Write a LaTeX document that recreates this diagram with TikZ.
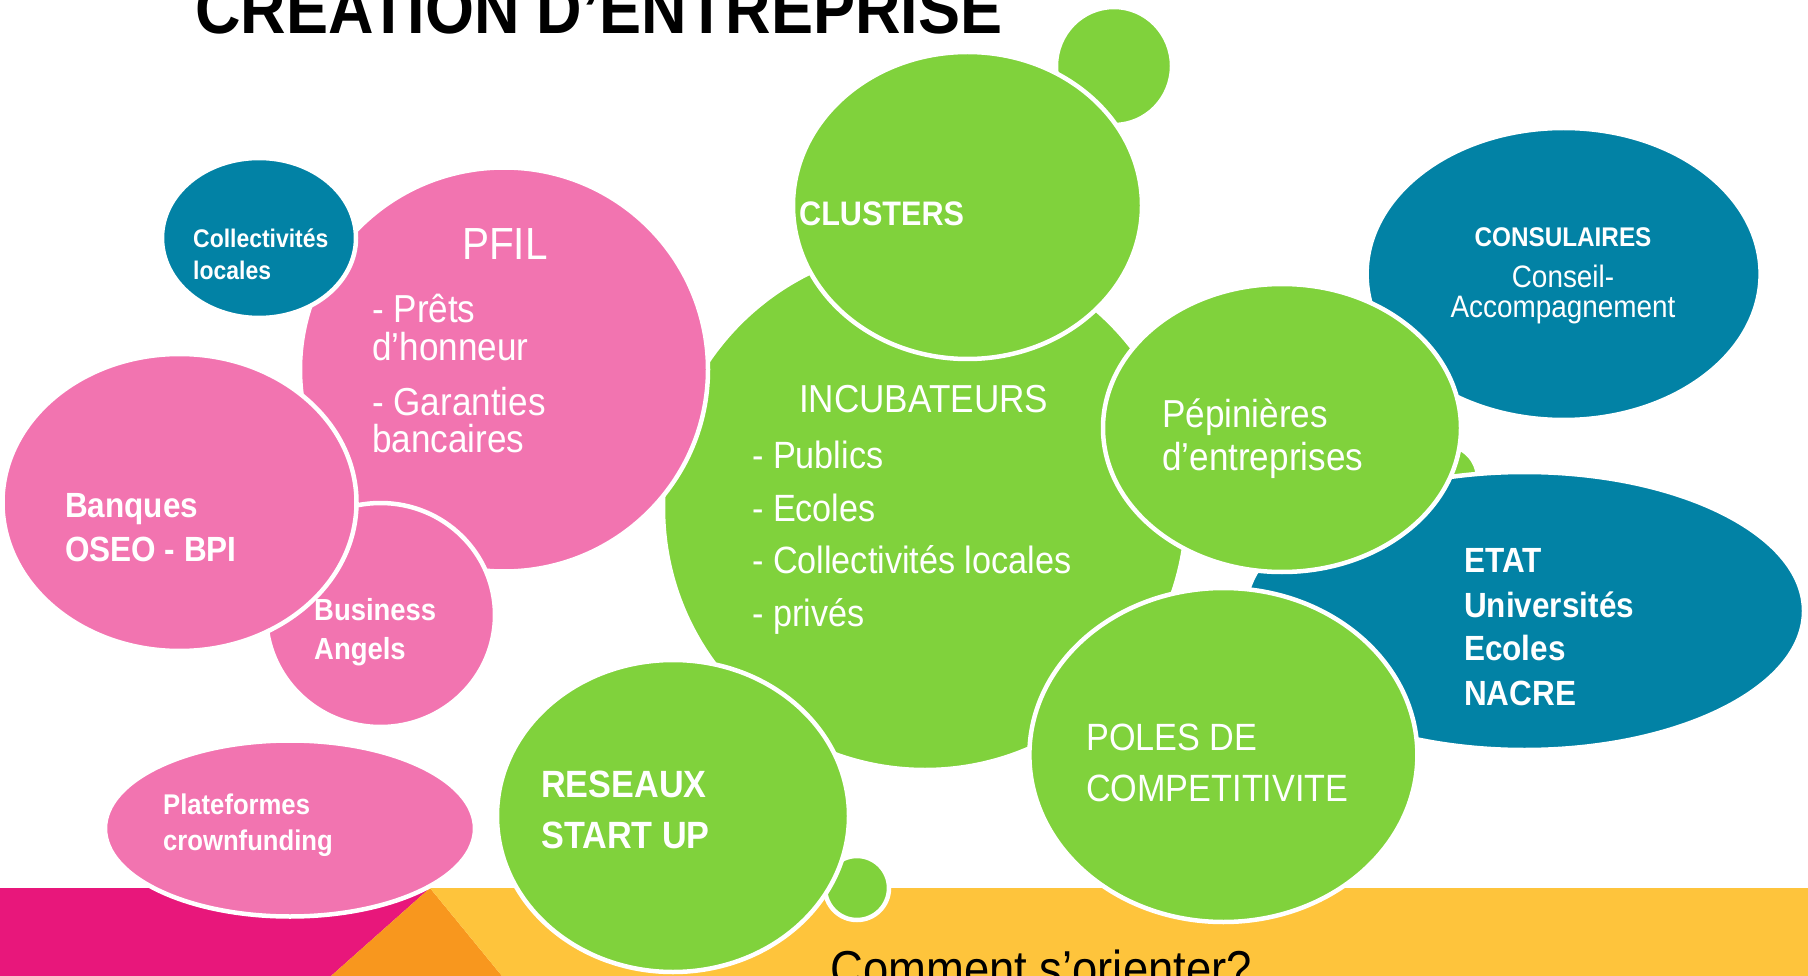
\documentclass[tikz,border=0pt]{standalone}
\usepackage{fontspec}
\setmainfont[FakeStretch=0.9]{Liberation Sans}
\definecolor{bubgreen}{HTML}{80D23C}
\definecolor{bubpink}{HTML}{F274B0}
\definecolor{bubteal}{HTML}{0282A5}
\definecolor{bandmagenta}{HTML}{E8177B}
\definecolor{bandorange}{HTML}{F8971E}
\definecolor{bandyellow}{HTML}{FEC43C}
\tikzset{
	bubble/.style={draw=white, line width=4.5pt},
	txt/.style={text=white, inner sep=0pt, anchor=base west},
}
\newcommand{\fsz}[1]{\fontsize{#1}{1.2\dimexpr#1pt\relax}\selectfont}
\begin{document}
\begin{tikzpicture}[x=1pt,y=-1pt]
	%
	\useasboundingbox (0,0) rectangle (1808,976);
	\clip (0,0) rectangle (1808,976);
	% bottom band
	\fill[bandmagenta] (0,888) -- (430,888) -- (331,976) -- (0,976) -- cycle;
	\fill[bandorange] (430,888) -- (502,976) -- (331,976) -- cycle;
	\fill[bandyellow] (430,888) -- (1808,888) -- (1808,976) -- (502,976) -- cycle;
	% bubbles, back to front
	\foreach \col/\cx/\cy/\rx/\ry in {green/1114/66/58/59,green/925/508/262/262,
		green/967.5/205.5/174.5/153.5,pink/504/369.5/204/202,teal/259/238/97/80,
		pink/380.5/615/114.5/112,pink/179.5/502.5/177/148.5,pink/290/828.5/185/88,
		green/857/888/32/32,green/673/816/176/156,teal/1563.6/274/197/146,
		green/1445/478/33/33,teal/1524.5/611/279.5/139,green/1282/428/179/144,
		green/1223.4/755/194/167}
		\filldraw[bubble, fill=bub\col] (\cx,\cy) ellipse [x radius=\rx, y radius=\ry];
	% title and question
	\node[txt, text=black, font=\bfseries\fsz{70}] (title) at (195,34) {CREATION D’ENTREPRISE};
	\node[txt, text=black, font=\fsz{50.5}] (question) at (830,986) {Comment s’orienter?};
	% financing side
	\foreach \y/\lbl [count=\i] in {248/Collectivités,280/locales}
		\node[txt, font=\bfseries\fsz{25.5}] (coll-\i) at (193,\y) {\lbl};
	\node[txt, font=\fsz{45}] (pfil) at (462,260) {PFIL};
	\foreach \y/\lbl [count=\i] in {323/- Prêts,361/d’honneur,415/- Garanties,452/bancaires}
		\node[txt, font=\fsz{39}] (pfil-\i) at (372,\y) {\lbl};
	\foreach \y/\lbl [count=\i] in {517/Banques,561/OSEO - BPI}
		\node[txt, font=\bfseries\fsz{35}] (bank-\i) at (65,\y) {\lbl};
	\foreach \y/\lbl [count=\i] in {620/Business,659/Angels}
		\node[txt, font=\bfseries\fsz{30.5}] (angels-\i) at (314,\y) {\lbl};
	\foreach \y/\lbl [count=\i] in {814/Plateformes,850/crownfunding}
		\node[txt, font=\bfseries\fsz{28.5}] (crowd-\i) at (163,\y) {\lbl};
	% support side
	\node[txt, font=\bfseries\fsz{34}] (clusters) at (799,226) {CLUSTERS};
	\node[txt, font=\fsz{39}] (incub) at (799,412) {INCUBATEURS};
	\foreach \y/\lbl [count=\i] in {468/- Publics,521/- Ecoles,573/- Collectivités locales,626/- privés}
		\node[txt, font=\fsz{38}] (incub-\i) at (752,\y) {\lbl};
	\node[txt, anchor=base, font=\bfseries\fsz{27}] (consul) at (1563,247) {CONSULAIRES};
	\foreach \y/\lbl [count=\i] in {288/Conseil-,318/Accompagnement}
		\node[txt, anchor=base, font=\fsz{31}] (consul-\i) at (1563,\y) {\lbl};
	\foreach \y/\lbl [count=\i] in {427/Pépinières,470/d’entreprises}
		\node[txt, font=\fsz{39}] (pepi-\i) at (1162,\y) {\lbl};
	\foreach \y/\lbl [count=\i] in {572/ETAT,617/Universités,660/Ecoles,705/NACRE}
		\node[txt, font=\bfseries\fsz{35}] (etat-\i) at (1464,\y) {\lbl};
	\foreach \y/\lbl [count=\i] in {750/POLES DE,801/COMPETITIVITE}
		\node[txt, font=\fsz{38}] (poles-\i) at (1086,\y) {\lbl};
	\foreach \y/\lbl [count=\i] in {797/RESEAUX,848/START UP}
		\node[txt, font=\bfseries\fsz{38}] (start-\i) at (541,\y) {\lbl};
\end{tikzpicture}
\end{document}
